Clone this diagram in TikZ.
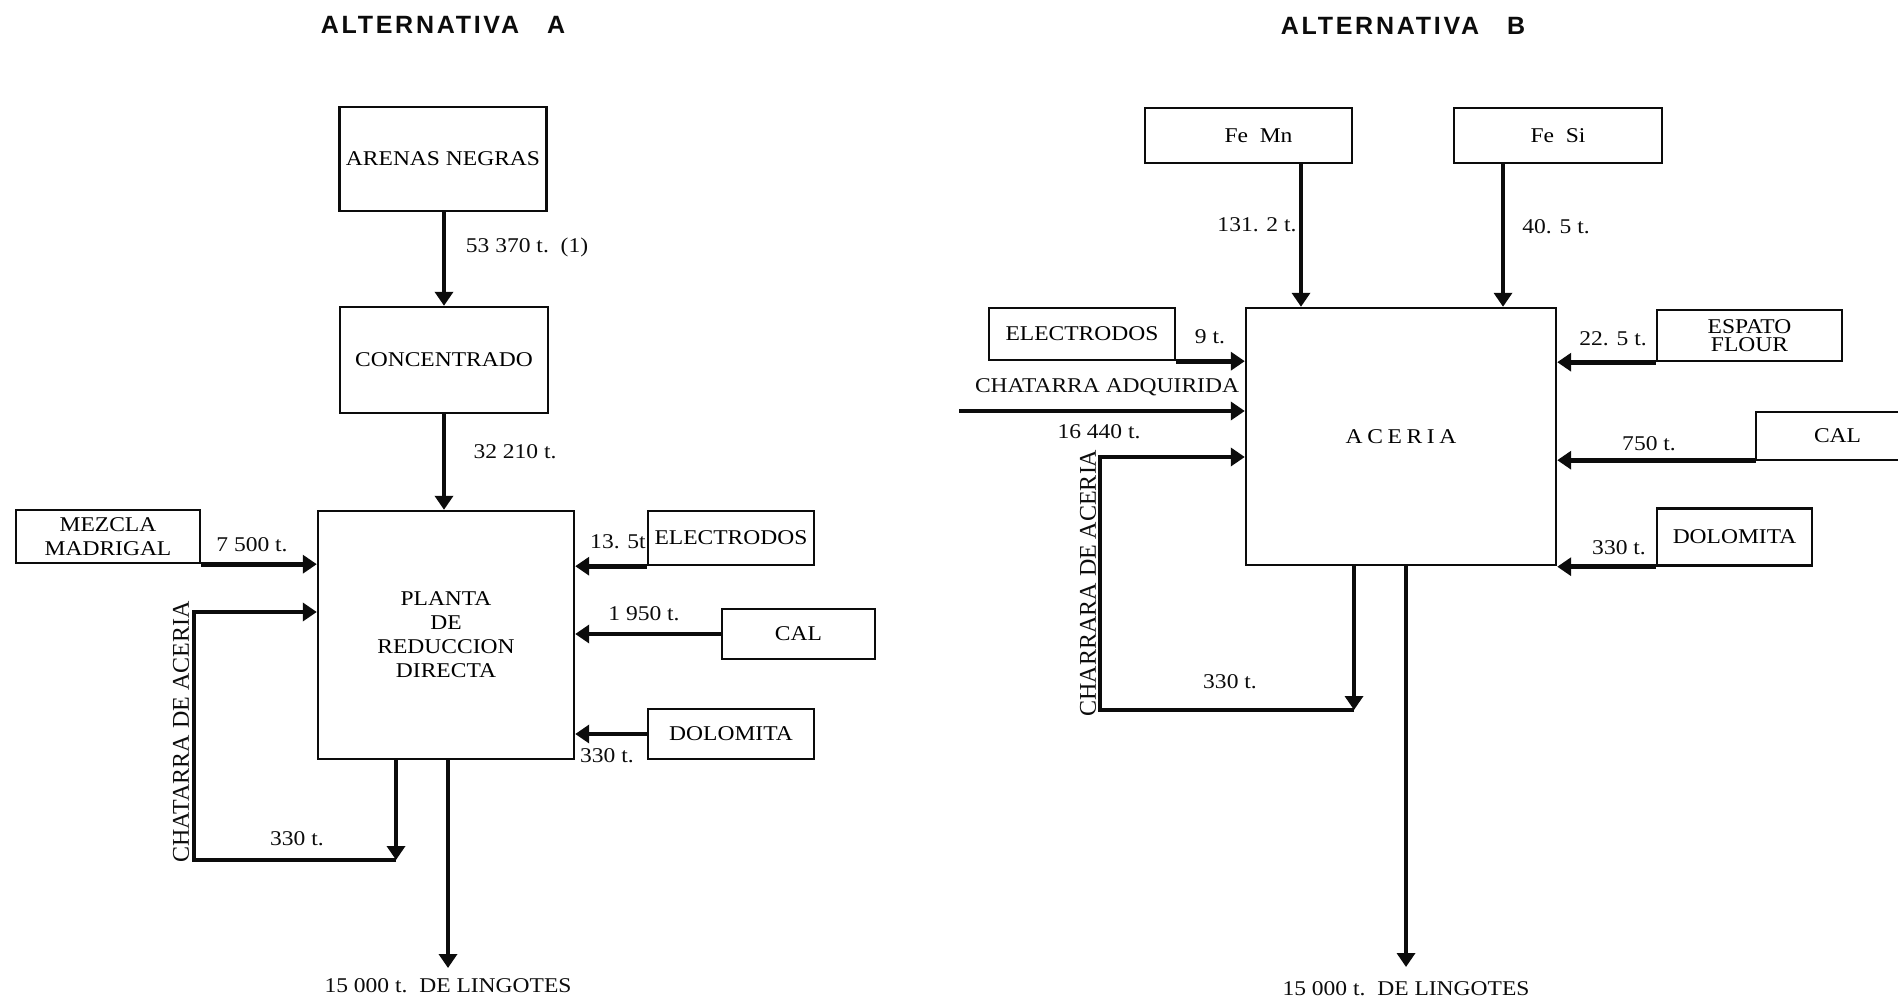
\documentclass[tikz,border=0pt]{standalone}
\usepackage{fontspec}
\setmainfont{Liberation Serif}[FakeStretch=1.12]
\newfontfamily\sideserif{Liberation Serif}
\newfontfamily\titlefont{Liberation Sans}[LetterSpace=11]
\usepackage{tikz}
\usetikzlibrary{arrows.meta,shapes,positioning}
\usepackage{xcolor}
\definecolor{ink}{RGB}{12,12,12}
\tikzstyle{flow} = [line width=2.4pt,-{Triangle[length=7pt,width=9pt]},color=ink]
\tikzstyle{unit} = [rectangle, draw=ink, line width=1.2pt, inner sep=0pt, align=center, font=\fontsize{10.5}{12}\selectfont]
\tikzstyle{amount} = [inner sep=1pt, text=ink, font=\fontsize{10.5}{12}\selectfont]
\tikzstyle{heading} = [text=ink, font=\titlefont\bfseries\fontsize{12.5}{14}\selectfont]
\tikzstyle{sidetext} = [rotate=90, inner sep=0pt, text=ink, font=\sideserif\fontsize{12}{14}\selectfont]

\begin{document}
\begin{tikzpicture}[x=0.5pt,y=-0.5pt]
\useasboundingbox (0,0) rectangle (1898,1004);

% Titles
\node (titleA) [heading] at (443,25) {ALTERNATIVA\hspace{14pt}A};
\node (titleB) [heading] at (1403,26) {ALTERNATIVA\hspace{14pt}B};

% Alternativa A: main chain
\node (arenas) [unit, minimum width=103.5pt, minimum height=52pt] at (443,159) {ARENAS NEGRAS};
\node (concentrado) [unit, minimum width=104pt, minimum height=53pt] at (444,360) {CONCENTRADO};
\node (planta) [unit, minimum width=128pt, minimum height=124pt] at (446,635) {PLANTA\\DE\\REDUCCION\\DIRECTA};

\draw[flow] (arenas.south -| concentrado.north) -- (concentrado.north);
\draw[flow] (concentrado.south) -- (concentrado.south |- planta.north);
\node (amtArenas) [amount] at (527,247) {53 370 t.\ \ (1)};
\node (amtConc) [amount] at (515,452) {32 210 t.};

% Alternativa A: inputs
\node (mezcla) [unit, minimum width=92pt, minimum height=26.5pt] at (108,536.5) {MEZCLA\\MADRIGAL};
\node (electrodosA) [unit, minimum width=83pt, minimum height=27pt] at (731,538) {ELECTRODOS};
\node (calA) [unit, minimum width=76.5pt, minimum height=25pt] at (798.5,634) {CAL};
\node (dolomitaA) [unit, minimum width=83pt, minimum height=25pt] at (731,734) {DOLOMITA};

\draw[flow] (mezcla.south east) -- (mezcla.south east -| planta.west);
\draw[flow] (electrodosA.south west) -- (electrodosA.south west -| planta.east);
\draw[flow] (calA.west) -- (calA.west -| planta.east);
\draw[flow] (dolomitaA.west) -- (dolomitaA.west -| planta.east);
\node (amtMezcla) [amount] at (252,545) {7 500 t.};
\node (amtElecA) [amount] at (618,542) {13. 5t};
\node (amtCalA) [amount] at (644,614) {1 950 t.};
\node (amtDoloA) [amount] at (607,756) {330 t.};

% Alternativa A: scrap loop and output
\coordinate (recA) at (396,860);
\coordinate (loopA) at (194,860);
\draw[flow] (planta.south -| recA) -- (recA);
\draw[flow] (recA) -- (loopA) |- (planta.west |- 0,612);
\node (amtRecA) [amount] at (297,839) {330 t.};
\node (scrapA) [sidetext] at (181,732) {CHATARRA DE ACERIA};

\coordinate (outA) at (448,968);
\draw[flow] (planta.south -| outA) -- (outA);
\node (lingotesA) [amount, below=4pt of outA] {15 000 t.\ \ DE LINGOTES};

% Alternativa B: main block
\node (aceria) [unit, minimum width=155pt, minimum height=128.5pt] at (1401,436.5) {\addfontfeature{LetterSpace=22}ACERIA};

% Alternativa B: inputs from above
\node (femn) [unit, minimum width=103.5pt, minimum height=27.5pt] at (1248.5,135.5) {\hspace*{10pt}Fe\ \ Mn};
\node (fesi) [unit, minimum width=104pt, minimum height=27.5pt] at (1558,135.5) {Fe\ \ Si};
\coordinate (mnx) at (1301,0);
\coordinate (six) at (1503,0);
\draw[flow] (femn.south -| mnx) -- (aceria.north -| mnx);
\draw[flow] (fesi.south -| six) -- (aceria.north -| six);
\node (amtFeMn) [amount] at (1257,225) {131. 2 t.};
\node (amtFeSi) [amount] at (1556,227) {40. 5 t.};

% Alternativa B: inputs from the left
\node (electrodosB) [unit, minimum width=93pt, minimum height=26pt] at (1082,334) {ELECTRODOS};
\draw[flow] (electrodosB.south east) -- (electrodosB.south east -| aceria.west);
\node (amtElecB) [amount] at (1210,337) {9 t.};

\coordinate (chatIn) at (959,411);
\draw[flow] (chatIn) -- (chatIn -| aceria.west);
\node (chatAdq) [amount] at (1107,387) {CHATARRA ADQUIRIDA};
\node (amtChat) [amount] at (1099,432) {16 440 t.};

% Alternativa B: inputs from the right
\node (espato) [unit, minimum width=92.5pt, minimum height=25.5pt] at (1749.5,335.5) {ESPATO\\[-3pt]FLOUR};
\node (calB) [unit, draw=none, minimum width=70.5pt, minimum height=23pt] at (1827.5,436) {\hspace*{10pt}CAL};
\draw[line width=1.2pt, color=ink] (calB.north east) -- (calB.north west) -- (calB.south west) -- (calB.south east);
\node (dolomitaB) [unit, minimum width=77.5pt, minimum height=28.5pt] at (1734.5,537) {DOLOMITA};

\draw[flow] (espato.south west) -- (espato.south west -| aceria.east);
\draw[flow] (calB.south west) -- (calB.south west -| aceria.east);
\draw[flow] (dolomitaB.south west) -- (dolomitaB.south west -| aceria.east);
\node (amtEspato) [amount] at (1613,339) {22. 5 t.};
\node (amtCalB) [amount] at (1649,444) {750 t.};
\node (amtDoloB) [amount] at (1619,548) {330 t.};

% Alternativa B: scrap loop and output
\coordinate (recB) at (1354,710);
\coordinate (loopB) at (1100,710);
\draw[flow] (aceria.south -| recB) -- (recB);
\draw[flow] (recB) -- (loopB) |- (aceria.west |- 0,457);
\node (amtRecB) [amount] at (1230,682) {330 t.};
\node (scrapB) [sidetext] at (1088,583) {CHARRARA DE ACERIA};

\coordinate (outB) at (1406,967);
\draw[flow] (aceria.south -| outB) -- (outB);
\node (lingotesB) [amount, below=6pt of outB] {15 000 t.\ \ DE LINGOTES};
\end{tikzpicture}
\end{document}
